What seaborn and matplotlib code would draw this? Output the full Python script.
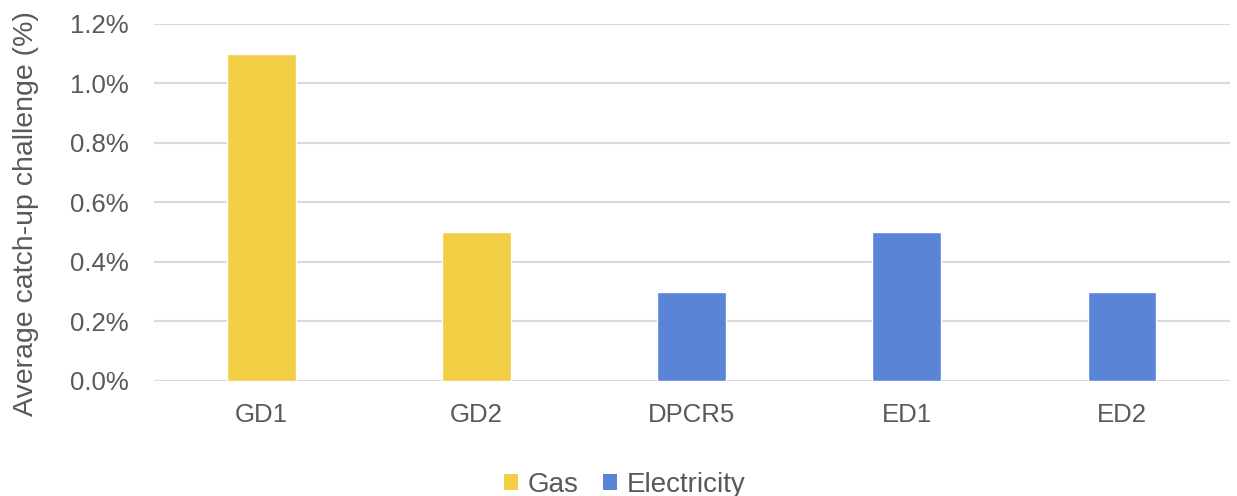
import matplotlib
matplotlib.use("Agg")
import matplotlib.pyplot as plt
from matplotlib.ticker import PercentFormatter
from matplotlib.patches import Patch
import seaborn as sns
import pandas as pd

# Average catch-up challenge by price control
categories = ["GD1", "GD2", "DPCR5", "ED1", "ED2"]
values = [1.1, 0.5, 0.3, 0.5, 0.3]
sectors = ["Gas", "Gas", "Electricity", "Electricity", "Electricity"]
sector_colors = {"Gas": "#F2CE45", "Electricity": "#5A85D7"}

df = pd.DataFrame({"control": categories, "value": values, "sector": sectors})

sns.set_style("white")
plt.rcParams["font.family"] = ["Liberation Sans", "DejaVu Sans"]

fig = plt.figure(figsize=(12.37, 4.96), dpi=100)
ax = fig.add_axes([0.1245, 0.232, 0.8695, 0.72])

sns.barplot(data=df, x="control", y="value", hue="sector", palette=sector_colors,
            dodge=False, width=0.32, ax=ax, legend=False, saturation=1)

ax.set_ylim(0, 1.2)
ax.set_yticks([0, 0.2, 0.4, 0.6, 0.8, 1.0, 1.2])
ax.yaxis.set_major_formatter(PercentFormatter(xmax=100, decimals=1))
ax.set_xlim(-0.5, len(categories) - 0.5)
ax.grid(axis="y", color="#D9D9D9", linewidth=1.5)
ax.set_axisbelow(True)
for s in ax.spines.values():
    s.set_visible(False)
ax.tick_params(axis="both", length=0, labelsize=18.5, labelcolor="#595959")
ax.tick_params(axis="y", pad=18)
ax.tick_params(axis="x", pad=16)
ax.set_xlabel("")
ax.set_ylabel("Average catch-up challenge (%)", fontsize=20.5, color="#595959")
ax.yaxis.set_label_coords(-0.107, 0.47)

handles = [Patch(facecolor=sector_colors[k], edgecolor="none") for k in ["Gas", "Electricity"]]
fig.legend(handles, ["Gas", "Electricity"], loc="center", bbox_to_anchor=(0.505, 0.022),
           ncol=2, frameon=False, fontsize=20, labelcolor="#595959",
           handlelength=0.5, handleheight=0.5, handletextpad=0.35, columnspacing=0.9)

fig.savefig("out.png", dpi=100)
